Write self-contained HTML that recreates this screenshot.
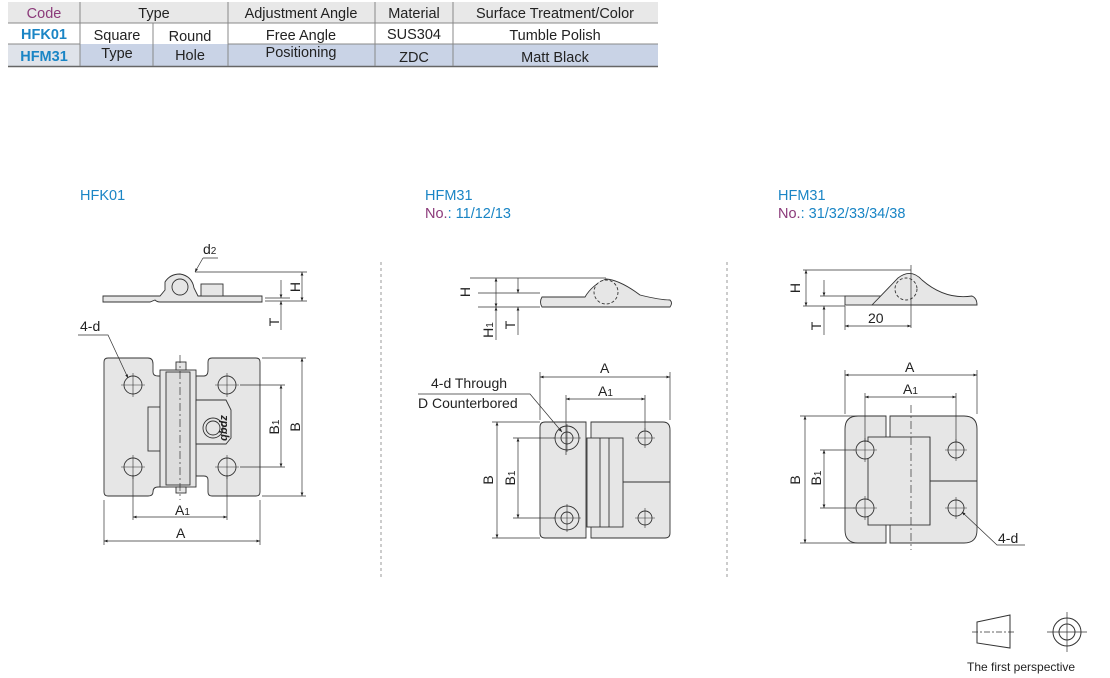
<!DOCTYPE html>
<html><head><meta charset="utf-8"><style>
body{margin:0;background:#fff;width:1110px;height:678px;overflow:hidden;font-family:"Liberation Sans",Arial,sans-serif}
svg{position:absolute;left:0;top:0}
</style></head><body>
<svg width="1110" height="678" viewBox="0 0 1110 678" font-family="Liberation Sans, Arial, sans-serif">
<defs>
<marker id="a" viewBox="0 0 10 10" refX="10" refY="5" markerWidth="7" markerHeight="5" orient="auto-start-reverse"><path d="M0,1L10,5L0,9z" fill="#222"/></marker>
</defs>
<!-- table -->
<rect x="8" y="2" width="650" height="21" fill="#e8e8e8"/>
<rect x="80" y="44" width="578" height="22" fill="#c9d3e6"/>
<rect x="8" y="44" width="72" height="22" fill="#dfe3ea"/>
<g stroke="#888" stroke-width="1">
<line x1="8" y1="23" x2="658" y2="23"/><line x1="8" y1="66.5" x2="658" y2="66.5" stroke="#666" stroke-width="1.5"/>
<line x1="8" y1="44" x2="80" y2="44"/><line x1="228" y1="44" x2="658" y2="44"/>
<line x1="80" y1="2" x2="80" y2="66"/><line x1="228" y1="2" x2="228" y2="66"/><line x1="375" y1="2" x2="375" y2="66"/><line x1="453" y1="2" x2="453" y2="66"/><line x1="153" y1="23" x2="153" y2="66"/>
</g>
<g font-size="14.5" fill="#222" text-anchor="middle">
<text x="44" y="18" fill="#8b3a7a">Code</text><text x="154" y="18">Type</text><text x="301" y="18">Adjustment Angle</text><text x="414" y="18">Material</text><text x="555" y="18">Surface Treatment/Color</text>
<text x="44" y="39" fill="#1a85c5" font-weight="bold">HFK01</text><text x="44" y="61" fill="#1a85c5" font-weight="bold">HFM31</text>
<text x="117" y="40">Square</text><text x="117" y="58">Type</text><text x="190" y="41">Round</text><text x="190" y="60">Hole</text>
<text x="301" y="40">Free Angle</text><text x="301" y="57">Positioning</text>
<text x="414" y="39">SUS304</text><text x="414" y="62">ZDC</text><text x="555" y="40">Tumble Polish</text><text x="555" y="62">Matt Black</text>
</g>
<!-- titles -->
<g font-size="14.5" fill="#1a85c5">
<text x="80" y="200">HFK01</text><text x="425" y="200">HFM31</text><text x="425" y="218"><tspan fill="#8b3a7a">No.</tspan>:  11/12/13</text>
<text x="778" y="200">HFM31</text><text x="778" y="218"><tspan fill="#8b3a7a">No.</tspan>:  31/32/33/34/38</text>
</g>
<g stroke="#999" stroke-dasharray="3,3"><line x1="381" y1="262" x2="381" y2="580"/><line x1="727" y1="262" x2="727" y2="580"/></g>

<g stroke="#333" stroke-width="0.9" fill="#e6e6e6">
<!-- HFK01 side -->
<path d="M103,296H160L165,290V282Q170,274 180,274Q192,276 194,288L198,296H262V302H160Q157,302 155,300L150,302H103Z"/>
<circle cx="180" cy="287" r="8" fill="#e6e6e6"/>
<rect x="201" y="284" width="22" height="12"/>
<!-- HFK01 top -->
<path d="M108,358H148Q153,358 153,364V372Q153,376 158,376H168V487H158Q153,487 153,492V492Q153,496 148,496H108Q104,496 104,492V362Q104,358 108,358Z"/>
<path d="M212,358H256Q260,358 260,362V492Q260,496 256,496H212Q208,496 208,492V480Q208,476 204,476H196V376H204Q208,376 208,370V362Q208,358 212,358Z"/>
<rect x="148" y="407" width="16" height="44"/>
<rect x="160" y="370" width="36" height="117"/>
<rect x="166" y="372" width="24" height="113" fill="#ddd"/>
<rect x="176" y="362" width="10" height="8"/><rect x="176" y="487" width="10" height="6"/>
<path d="M196,400H226L231,410V438L226,444H196Z"/>
<circle cx="213" cy="428" r="10"/><circle cx="213" cy="428" r="7"/>
<circle cx="133" cy="385" r="9"/><circle cx="227" cy="385" r="9"/><circle cx="133" cy="467" r="9"/><circle cx="227" cy="467" r="9"/>
<!-- HFM31 side -->
<path d="M542,297H585Q592,285 606,279Q620,280 640,295Q660,300 670,300Q673,303 670,307H542Q539,302 542,297Z"/>
<circle cx="606" cy="292" r="12" fill="#e6e6e6" stroke-dasharray="3,2"/>
<!-- HFM31 top -->
<path d="M545,422H586V538H545Q540,538 540,533V427Q540,422 545,422Z"/>
<path d="M591,422H663Q670,422 670,430V533Q670,538 665,538H591Z"/>
<rect x="587" y="438" width="36" height="89"/>
<line x1="600" y1="438" x2="600" y2="527"/><line x1="609" y1="438" x2="609" y2="527"/>
<line x1="623" y1="482" x2="670" y2="482"/>
<circle cx="567" cy="438" r="12"/><circle cx="567" cy="438" r="6"/><circle cx="567" cy="518" r="12"/><circle cx="567" cy="518" r="6"/>
<circle cx="645" cy="438" r="7"/><circle cx="645" cy="518" r="7"/>
<!-- right side -->
<rect x="845" y="296" width="40" height="9"/>
<path d="M872,305L898,278Q911,268 922,280Q945,300 972,296Q977,298 977,305Z"/>
<circle cx="906" cy="289" r="11" fill="#e6e6e6" stroke-dasharray="3,2"/>
<!-- right top -->
<path d="M858,416H886V543H858Q845,543 845,530V429Q845,416 858,416Z"/>
<path d="M890,416H964Q977,416 977,429V530Q977,543 964,543H890Z"/>
<rect x="868" y="437" width="62" height="88"/>
<line x1="930" y1="437" x2="930" y2="525"/><line x1="930" y1="481" x2="977" y2="481"/>
<circle cx="865" cy="450" r="9"/><circle cx="865" cy="508" r="9"/><circle cx="956" cy="450" r="8"/><circle cx="956" cy="508" r="8"/>
</g>
<!-- center/dim lines -->
<g stroke="#333" stroke-width="0.7" fill="none">
<line x1="180" y1="355" x2="180" y2="500" stroke-dasharray="8,3,2,3"/>
<line x1="911" y1="265" x2="911" y2="328"/><line x1="911" y1="405" x2="911" y2="550" stroke-dasharray="8,3,2,3"/>
<!-- HFK01 dims -->
<line x1="104" y1="500" x2="104" y2="545"/><line x1="260" y1="500" x2="260" y2="545"/>
<line x1="104" y1="541" x2="260" y2="541" marker-start="url(#a)" marker-end="url(#a)"/>
<line x1="133" y1="475" x2="133" y2="520"/><line x1="227" y1="475" x2="227" y2="520"/>
<line x1="133" y1="517" x2="227" y2="517" marker-start="url(#a)" marker-end="url(#a)"/>
<line x1="262" y1="358" x2="306" y2="358"/><line x1="262" y1="496" x2="306" y2="496"/>
<line x1="302" y1="358" x2="302" y2="496" marker-start="url(#a)" marker-end="url(#a)"/>
<line x1="240" y1="385" x2="285" y2="385"/><line x1="240" y1="467" x2="285" y2="467"/>
<line x1="281" y1="385" x2="281" y2="467" marker-start="url(#a)" marker-end="url(#a)"/>
<line x1="195" y1="272" x2="307" y2="272"/><line x1="265" y1="301" x2="307" y2="301"/><line x1="265" y1="298" x2="290" y2="298"/>
<line x1="302" y1="272" x2="302" y2="301" marker-start="url(#a)" marker-end="url(#a)"/>
<line x1="281" y1="280" x2="281" y2="298" marker-end="url(#a)"/><line x1="281" y1="330" x2="281" y2="301" marker-end="url(#a)"/>
<path d="M203,258H218M203,258L195,272" marker-end="url(#a)"/>
<path d="M78,335H108L128,378" marker-end="url(#a)"/>
<!-- HFM31 mid dims -->
<line x1="470" y1="278" x2="606" y2="278"/><line x1="478" y1="293" x2="540" y2="293"/><line x1="478" y1="307" x2="540" y2="307"/>
<line x1="496" y1="278" x2="496" y2="307" marker-start="url(#a)" marker-end="url(#a)"/>
<line x1="496" y1="340" x2="496" y2="307" marker-end="url(#a)"/>
<line x1="518" y1="278" x2="518" y2="293" marker-end="url(#a)"/><line x1="518" y1="335" x2="518" y2="307" marker-end="url(#a)"/>
<line x1="540" y1="372" x2="540" y2="420"/><line x1="670" y1="372" x2="670" y2="420"/>
<line x1="540" y1="377" x2="670" y2="377" marker-start="url(#a)" marker-end="url(#a)"/>
<line x1="566" y1="395" x2="566" y2="455"/><line x1="645" y1="395" x2="645" y2="430"/>
<line x1="566" y1="399" x2="645" y2="399" marker-start="url(#a)" marker-end="url(#a)"/>
<line x1="492" y1="422" x2="540" y2="422"/><line x1="492" y1="538" x2="540" y2="538"/>
<line x1="497" y1="422" x2="497" y2="538" marker-start="url(#a)" marker-end="url(#a)"/>
<line x1="513" y1="438" x2="555" y2="438"/><line x1="513" y1="518" x2="555" y2="518"/>
<line x1="518" y1="438" x2="518" y2="518" marker-start="url(#a)" marker-end="url(#a)"/>
<path d="M418,394H530L562,432" marker-end="url(#a)"/>
<!-- right dims -->
<line x1="803" y1="270" x2="911" y2="270"/><line x1="820" y1="296" x2="845" y2="296"/><line x1="803" y1="306" x2="845" y2="306"/>
<line x1="806" y1="270" x2="806" y2="306" marker-start="url(#a)" marker-end="url(#a)"/>
<line x1="824" y1="280" x2="824" y2="296" marker-end="url(#a)"/><line x1="824" y1="335" x2="824" y2="306" marker-end="url(#a)"/>
<line x1="845" y1="306" x2="845" y2="330"/>
<line x1="845" y1="326" x2="911" y2="326" marker-start="url(#a)" marker-end="url(#a)"/>
<line x1="845" y1="370" x2="845" y2="414"/><line x1="977" y1="370" x2="977" y2="414"/>
<line x1="845" y1="375" x2="977" y2="375" marker-start="url(#a)" marker-end="url(#a)"/>
<line x1="865" y1="393" x2="865" y2="442"/><line x1="956" y1="393" x2="956" y2="442"/>
<line x1="865" y1="397" x2="956" y2="397" marker-start="url(#a)" marker-end="url(#a)"/>
<line x1="800" y1="416" x2="880" y2="416"/><line x1="800" y1="543" x2="880" y2="543"/>
<line x1="805" y1="416" x2="805" y2="543" marker-start="url(#a)" marker-end="url(#a)"/>
<line x1="820" y1="450" x2="855" y2="450"/><line x1="820" y1="508" x2="855" y2="508"/>
<line x1="824" y1="450" x2="824" y2="508" marker-start="url(#a)" marker-end="url(#a)"/>
<path d="M1025,545H997L962,512" marker-end="url(#a)"/>
<!-- perspective symbol -->
<path d="M977,622L1010,615V648L977,643Z" stroke-width="1"/>
<line x1="972" y1="632" x2="1016" y2="632" stroke-dasharray="6,2,2,2"/>
<circle cx="1067" cy="632" r="14" stroke-width="1"/><circle cx="1067" cy="632" r="8" stroke-width="1"/>
<line x1="1047" y1="632" x2="1087" y2="632"/><line x1="1067" y1="612" x2="1067" y2="652"/>
</g>
<!-- crosshairs for holes -->
<g stroke="#333" stroke-width="0.6">
<path d="M121,385h24M133,373v24M215,385h24M227,373v24M121,467h24M133,455v24M215,467h24M227,455v24"/>
<path d="M553,438h28M567,424v28M553,518h28M567,504v28M635,438h20M645,428v20M635,518h20M645,508v20"/>
<path d="M853,450h24M865,438v24M853,508h24M865,496v24M945,450h22M956,439v22M945,508h22M956,497v22"/>
</g>
<g font-size="14" fill="#222">
<text x="203" y="254">d<tspan font-size="10">2</tspan></text>
<text x="80" y="331">4-d</text>
<text x="175" y="515">A<tspan font-size="10">1</tspan></text><text x="176" y="538">A</text>
<text transform="translate(300,427) rotate(-90)" text-anchor="middle">B</text>
<text transform="translate(279,427) rotate(-90)" text-anchor="middle">B<tspan font-size="10">1</tspan></text>
<text transform="translate(300,287) rotate(-90)" text-anchor="middle">H</text>
<text transform="translate(279,322) rotate(-90)" text-anchor="middle">T</text>
<text transform="translate(227,428) rotate(-90)" text-anchor="middle" font-size="11" font-style="italic" font-weight="bold">qbdz</text>
<text x="431" y="388">4-d Through</text><text x="418" y="408">D Counterbored</text>
<text x="600" y="373">A</text><text x="598" y="396">A<tspan font-size="10">1</tspan></text>
<text transform="translate(493,480) rotate(-90)" text-anchor="middle">B</text>
<text transform="translate(515,478) rotate(-90)" text-anchor="middle">B<tspan font-size="10">1</tspan></text>
<text transform="translate(470,292) rotate(-90)" text-anchor="middle">H</text>
<text transform="translate(493,330) rotate(-90)" text-anchor="middle">H<tspan font-size="10">1</tspan></text>
<text transform="translate(515,325) rotate(-90)" text-anchor="middle">T</text>
<text x="905" y="372">A</text><text x="903" y="394">A<tspan font-size="10">1</tspan></text>
<text transform="translate(800,480) rotate(-90)" text-anchor="middle">B</text>
<text transform="translate(821,478) rotate(-90)" text-anchor="middle">B<tspan font-size="10">1</tspan></text>
<text transform="translate(800,288) rotate(-90)" text-anchor="middle">H</text>
<text transform="translate(821,326) rotate(-90)" text-anchor="middle">T</text>
<text x="868" y="323">20</text>
<text x="998" y="543">4-d</text>
<text x="967" y="671" font-size="12">The first perspective</text>
</g>
</svg>
</body></html>
